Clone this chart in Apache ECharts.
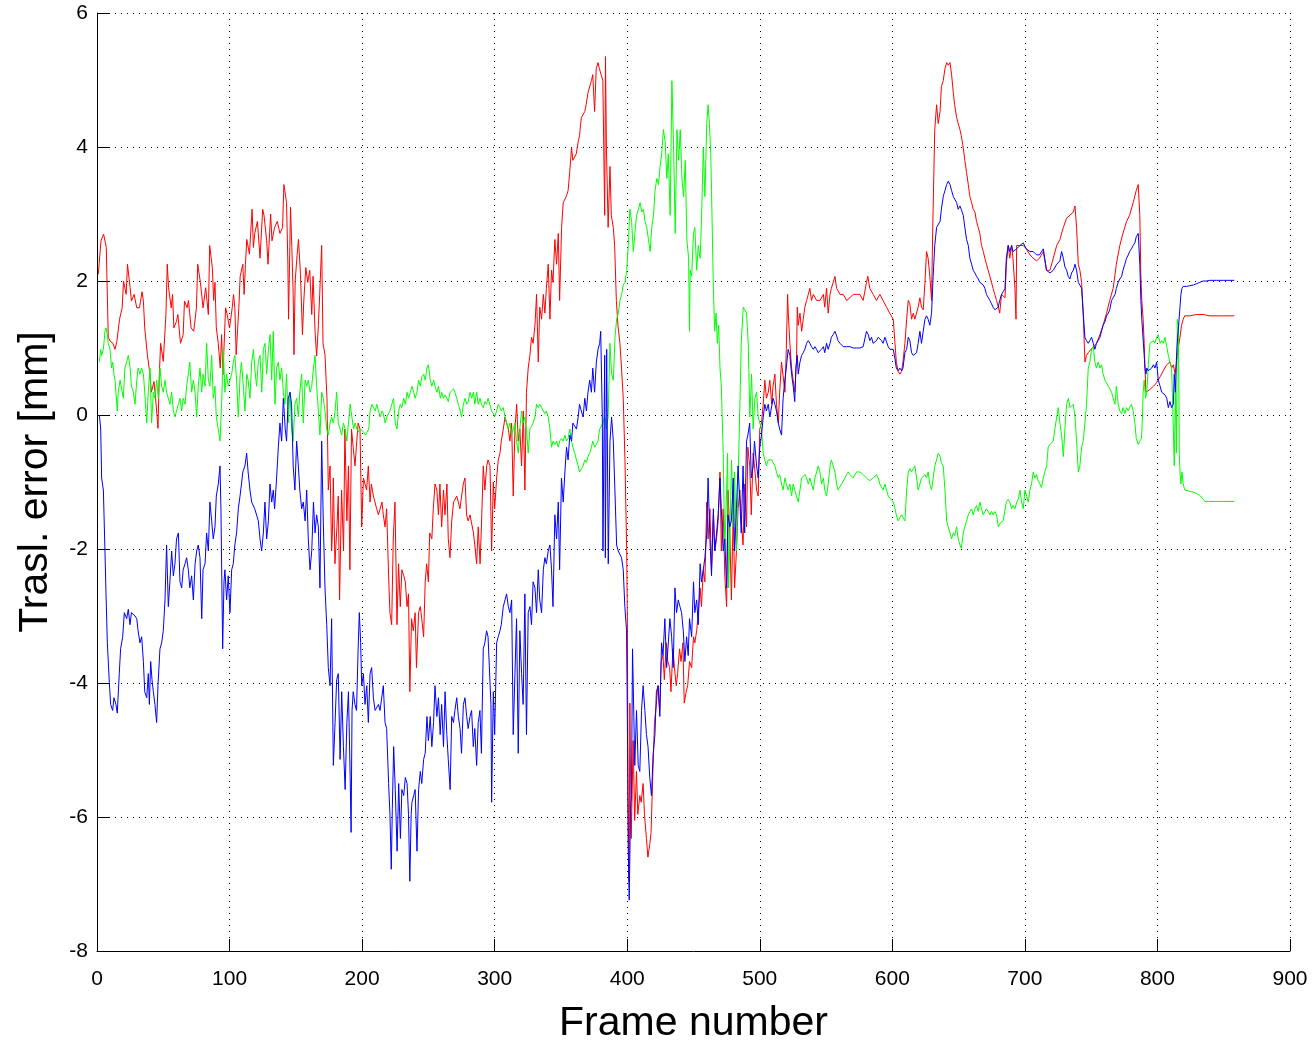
<!DOCTYPE html>
<html><head><meta charset="utf-8">
<script src="https://cdn.jsdelivr.net/npm/echarts@6/dist/echarts.min.js"></script>
<style>html,body{margin:0;padding:0;background:#fff;}#c{width:1315px;height:1041px;}</style>
</head><body><div id="c"></div>
<script>
// Tick values
const xTicks = [0,100,200,300,400,500,600,700,800,900];
const yTicks = [-8,-6,-4,-2,0,2,4,6];
const xAxisTitle = 'Frame number';
const yAxisTitle = 'Trasl. error [mm]';

// [frame, error mm]
const redPoints = [[1,2.1],[3,2.6],[5,2.7],[7,2.5],[8.5,1.16],[10,1.1],[12,1.07],[13.6,0.98],[15,1.1],[17,1.43],[19,1.6],[20,2.0],[22,1.8],[23,2.25],[25,1.9],[26,1.7],[28,1.8],[30,1.6],[32,1.6],[34,1.84],[35,1.7],[36,1.3],[38,0.9],[40,0.6],[41,0.34],[43,0.5],[44,0.3],[46,-0.2],[47,0.6],[48,1.07],[50,0.8],[52,1.5],[53,2.25],[54,1.9],[56,1.6],[57,1.8],[58,1.3],[60,1.4],[61,1.5],[63,1.07],[65,1.2],[66,1.7],[68,1.6],[69,1.71],[71,1.3],[73,1.25],[75,1.6],[76,2.25],[78,1.98],[80,1.6],[82,1.9],[84,1.5],[85,2.53],[87,2.2],[88,1.71],[89,1.98],[90,1.3],[91.5,1.07],[93,0.7],[94,1.2],[95,0.6],[97,1.6],[98,1.52],[100,1.3],[102,1.6],[103,1.8],[104,1.6],[105,0.9],[107,1.6],[108,2.07],[110,2.25],[111,1.8],[112,2.25],[113,2.62],[115,2.4],[117,3.07],[118,2.5],[119,2.71],[121,2.89],[123,2.34],[125,3.07],[126,2.98],[128,2.6],[129,2.25],[131,3.0],[132,2.6],[134,2.8],[136,2.89],[138,2.71],[140,2.8],[141,3.44],[143,3.17],[144,2.25],[144.5,1.43],[146,3.1],[147,2.5],[148,1.8],[148.6,0.9],[149.5,2.0],[151,2.4],[152,2.62],[153.5,2.1],[155,1.2],[156,1.7],[157.5,2.2],[159,1.98],[160.5,2.16],[162,1.5],[163,2.07],[164.5,1.25],[165.7,0.88],[167,1.34],[168,1.8],[169.5,2.53],[170.5,1.07],[172,0.9],[173.5,0.25],[174.5,-1.12],[175.8,-0.76],[177,-2.03],[177.6,-1.76],[178.3,-0.94],[179.5,-2.22],[181,-1.67],[182,-1.21],[183,-2.76],[184.5,-1.12],[186,-2.03],[187,-0.21],[188.5,-1.58],[189.7,-0.76],[190.8,-2.31],[192,-0.21],[193,-0.21],[194.6,-0.76],[196,-0.39],[197,-0.12],[198.4,-0.21],[199.7,-1.67],[201,-0.94],[203.4,-1.12],[204.7,-0.76],[206,-1.3],[207,-1.03],[208.5,-1.21],[211,-1.4],[212.3,-1.49],[215,-1.3],[216,-1.49],[217.3,-1.67],[218.5,-1.4],[220,-2.4],[221,-2.95],[222.3,-3.13],[223.5,-1.85],[224.8,-1.3],[226.3,-3.13],[227.5,-2.22],[228.8,-2.86],[230,-2.31],[231.4,-2.4],[232.6,-2.49],[233.9,-2.86],[235,-2.67],[236,-4.13],[237.3,-3.04],[238.6,-3.22],[240,-2.95],[241,-3.77],[242.6,-2.95],[243.9,-2.86],[245,-3.04],[246.4,-3.31],[247.6,-2.49],[248.7,-2.22],[250,-2.49],[251,-1.76],[252.6,-1.85],[253.7,-1.4],[255,-1.03],[256.4,-1.12],[257.6,-1.49],[258.7,-1.03],[260,-1.67],[261.4,-1.12],[262.5,-1.49],[264,-1.03],[265,-1.85],[266.3,-2.13],[267.6,-1.58],[269,-1.3],[270,-1.3],[271.4,-1.21],[273.8,-1.4],[276.3,-1.03],[277.6,-0.94],[278.8,-1.49],[280,-1.58],[281.4,-1.49],[282.6,-1.49],[284,-1.76],[285,-1.94],[286.4,-2.22],[287.6,-1.67],[289,-2.22],[290,-1.67],[291.4,-0.76],[292.6,-1.12],[294,-0.76],[295,-0.67],[296.5,-0.76],[297.7,-2.03],[299,-1.0],[300,-1.4],[301.5,-0.94],[302.7,-0.67],[304,-0.57],[305,-0.39],[306.5,-0.21],[307.8,-0.03],[309,-0.12],[310.3,-0.21],[311.5,-0.39],[312.8,-0.12],[314,-1.21],[315.3,-0.21],[316.6,0.16],[317.8,-0.39],[319,-0.21],[320.3,-0.76],[321.6,0.06],[322.8,-1.12],[324,0.34],[325.3,0.7],[326.6,0.89],[327.8,1.16],[329,1.07],[330.4,1.34],[331.6,1.8],[332.9,0.79],[334,1.61],[335.4,1.43],[336.7,1.8],[337.9,1.52],[339,1.89],[340.4,2.25],[341.7,1.43],[342.9,2.16],[344,1.98],[345.4,2.62],[346.7,2.25],[348,2.71],[349,1.71],[350.5,2.8],[351.7,3.17],[354,3.26],[355.4,3.35],[356.6,3.62],[358,3.99],[359,3.8],[361.6,3.9],[363,4.08],[364,4.17],[365.4,4.44],[366.6,4.44],[368,4.53],[369,4.63],[370.4,4.81],[371.6,4.81],[373,4.99],[374,5.08],[375.4,4.53],[376.6,5.17],[378,5.26],[379,5.17],[380.4,5.17],[381.6,4.99],[383,2.98],[383.6,5.35],[384.3,4.0],[385.6,2.8],[387,3.71],[388,2.98],[389.5,2.8],[390.5,2.53],[391.8,1.71],[393,1.34],[394.5,1.07],[395.7,0.7],[397,0.25],[398.3,-0.67],[399.6,-2.03],[400.1,-3.0],[400.6,-5.68],[401.4,-6.96],[402,-4.3],[403,-6.32],[404.5,-4.86],[405.6,-6.05],[407,-5.32],[408,-5.96],[409.5,-5.68],[410.5,-5.78],[412,-5.5],[413,-5.96],[414.5,-6.32],[415.6,-6.6],[417,-6.41],[418,-6.23],[419.5,-5.23],[420.6,-4.59],[422,-4.32],[423,-4.04],[424.5,-4.41],[425.6,-3.68],[427,-3.59],[428,-3.95],[429.5,-3.4],[430.6,-3.68],[432,-3.77],[433,-4.13],[434.5,-3.49],[435.6,-3.77],[437,-4.04],[438,-3.86],[439.5,-3.49],[440.6,-3.68],[442,-3.4],[443,-4.3],[444.5,-4.13],[445.6,-4.04],[447,-3.68],[448.6,-3.77],[450,-3.31],[451,-3.4],[452.4,-3.22],[453.6,-2.95],[455,-2.58],[456,-2.86],[457.4,-2.31],[458.6,-2.49],[460,-1.3],[461,-1.85],[462.4,-1.4],[463.6,-2.31],[465,-1.49],[466,-2.03],[467.4,-1.85],[468.6,-1.58],[470,-0.85],[471,-2.03],[472.4,-1.4],[473.6,-2.4],[475,-2.86],[476,-1.12],[477.4,-1.76],[478.6,-2.76],[480,-1.4],[481,-2.58],[482.4,-2.03],[483.6,-1.4],[485,-1.12],[486,-1.58],[487.4,-1.94],[488.6,-1.03],[490,-1.67],[491,-0.48],[492.4,-0.76],[493.6,-1.49],[495,-0.57],[496,-0.76],[497.6,-1.12],[498.8,-1.21],[500,-0.21],[501.3,-0.12],[502.6,0.16],[503.8,0.52],[505,0.25],[506.4,0.34],[507.6,0.52],[509,0.16],[510,0.43],[511.4,0.61],[512.6,0.16],[514,-0.12],[515,0.34],[516.4,0.79],[517.6,0.79],[519,0.34],[520,0.98],[521,1.8],[521.5,1.52],[522.7,1.07],[524,0.7],[525.2,0.52],[526.4,0.34],[527.7,0.79],[528.3,1.61],[529,1.34],[530.3,1.52],[531.6,1.25],[532.8,1.43],[534,1.61],[535.3,1.71],[536.6,1.8],[537.8,1.89],[539,1.71],[540.4,1.8],[542.9,1.71],[545.4,1.71],[548,1.8],[549,1.61],[550.4,1.89],[551.6,1.52],[553,1.8],[554,1.89],[555.4,1.98],[556.7,2.07],[558,1.89],[560.5,1.8],[563,1.8],[565.5,1.71],[568,1.75],[570.5,1.8],[573,1.8],[575.5,1.8],[578,1.71],[580.5,1.98],[581.5,2.07],[583,1.89],[585.6,1.8],[588,1.71],[590.6,1.8],[593,1.71],[595.6,1.61],[598,1.52],[600.7,1.43],[602,1.07],[603,0.79],[604.4,0.65],[605.7,0.61],[607,0.65],[608,0.79],[609.5,1.07],[610.8,1.43],[612,1.71],[613.2,1.66],[614.5,1.43],[615.8,1.52],[617,1.43],[618.3,1.43],[619.5,1.61],[620.8,1.75],[622,1.61],[623.3,1.57],[624.6,1.98],[625.8,2.44],[627,2.34],[628.3,2.07],[629.6,1.71],[630.5,2.8],[632,4.26],[633.4,4.63],[634.6,4.35],[636,4.53],[637,4.9],[638.4,4.99],[639.7,5.17],[641,5.26],[642.2,5.22],[643.5,5.26],[644.7,5.08],[646,4.81],[647,4.63],[648.5,4.44],[649.7,4.35],[651,4.26],[652,4.17],[653.5,3.99],[654.7,3.8],[656,3.62],[657.3,3.44],[658.5,3.26],[659.8,3.17],[661,3.07],[662.3,3.03],[663.5,2.89],[664.8,2.8],[666,2.71],[667.3,2.53],[668.6,2.44],[669.8,2.34],[671,2.25],[672.3,2.16],[673.6,2.07],[674.8,1.98],[676,1.89],[677.3,1.8],[678.6,1.71],[680,1.61],[681,1.52],[682.4,1.8],[683.6,1.8],[685,1.75],[686,2.25],[687.4,2.53],[688.6,2.34],[690,2.53],[691,2.34],[692.5,1.89],[693.3,1.43],[693.8,2.53],[696.3,2.53],[698.8,2.53],[701,2.48],[703.8,2.39],[706.3,2.34],[708.8,2.3],[711,2.34],[713.9,2.44],[716.3,2.16],[718.9,2.16],[721.4,2.34],[724,2.53],[726.4,2.62],[729,2.8],[731.5,2.94],[734,2.98],[736.5,3.03],[737.8,3.12],[739,2.8],[740.3,2.25],[741.5,2.16],[742.8,1.98],[744,1.52],[745.3,0.79],[746.5,0.89],[747.8,0.93],[749,0.93],[751.6,1.02],[754,1.07],[756.6,1.2],[759,1.34],[761.6,1.52],[764,1.71],[766.6,1.89],[769,2.25],[771.6,2.53],[774,2.71],[776.7,2.89],[779,2.98],[781.7,3.17],[784,3.35],[785.5,3.44],[786.3,3.44],[786.7,2.98],[787.5,2.07],[788.2,1.71],[789.2,1.43],[790,1.07],[790.6,0.7],[791.3,0.34],[794.3,0.38],[797,0.43],[799.3,0.48],[802,0.57],[804.4,0.66],[807,0.75],[809.4,0.79],[810.7,0.7],[812,0.75],[813.3,0.61],[814.4,0.79],[815.6,0.98],[817,1.16],[818.2,1.34],[819.4,1.43],[820.6,1.48],[824.4,1.48],[829.5,1.5],[834.5,1.5],[839.5,1.48],[849.6,1.48],[858,1.48]];

const greenPoints = [[1.8,0.79],[2.8,0.98],[3.5,0.89],[4.8,0.98],[6,1.25],[6.8,1.3],[7.8,1.2],[8.5,1.07],[9.8,0.98],[11,0.7],[11.8,0.79],[12.8,0.61],[13.6,0.52],[14.3,0.34],[15.3,0.06],[16,0.34],[17.4,0.52],[18.6,0.52],[19.9,0.25],[21,0.7],[22.4,0.79],[23.6,0.89],[25,0.7],[26,0.43],[27.4,0.34],[28.7,0.16],[30,0.52],[31,0.7],[32.4,0.61],[33.7,0.7],[35,0.61],[36,0.34],[37.5,-0.12],[38.7,0.34],[40,0.7],[41.2,-0.12],[42.5,0.34],[43.7,0.25],[45,0.52],[46.3,0.25],[47.5,0.7],[48.8,0.43],[50,0.34],[51.3,0.52],[52.5,0.34],[53.8,0.25],[55,0.16],[56.3,0.34],[57.6,0.06],[58.8,-0.03],[60,0.06],[61.4,0.16],[62.6,0.25],[63.9,0.06],[65,0.25],[66.4,0.16],[67.6,0.43],[68.9,0.61],[70,0.79],[71.4,0.34],[72.7,0.52],[74,0.34],[75.2,-0.03],[76.4,0.43],[77.7,0.7],[79,0.34],[80,0.61],[81.5,0.43],[82.7,1.07],[84,0.52],[85.2,0.43],[86.5,0.89],[87.7,0.25],[89,0.43],[90,-0.03],[91.5,-0.21],[92.8,-0.39],[94,0.16],[95.3,0.98],[96.5,0.34],[97.8,0.61],[99,0.43],[100.3,0.52],[101.6,0.61],[102.8,0.79],[104,0.89],[105.3,0.52],[106.6,-0.03],[108,0.61],[109,0.79],[110.4,0.43],[111.6,0.06],[113,0.61],[114,0.52],[115.4,0.25],[116.7,0.79],[118,0.98],[119,0.7],[120.4,0.43],[121.7,0.79],[123,0.89],[124.3,0.34],[125.5,0.98],[126.8,1.07],[128,0.61],[129.3,0.98],[130.6,1.2],[131.8,0.52],[133,1.25],[134.3,0.16],[135.5,0.7],[136.8,0.79],[138,0.52],[139.3,0.7],[140.6,0.34],[141.8,0.16],[143,0.61],[144.3,-0.12],[145.6,0.34],[146.8,-0.21],[148,-0.39],[149.3,0.16],[150.6,0.25],[151.9,-0.03],[153,0.34],[154.4,0.61],[155.6,-0.12],[157,0.52],[158.2,0.43],[159.4,0.52],[160.7,0.34],[162,0.43],[163.3,0.7],[164.5,0.89],[165.7,0.43],[167,0.06],[168.2,-0.3],[169.5,0.34],[170.7,0.25],[172,0.06],[173.3,-0.21],[174.5,-0.3],[175.8,-0.12],[177,-0.03],[178.3,-0.12],[179.6,0.06],[180.8,0.34],[182,-0.12],[183.4,-0.21],[184.6,-0.3],[185.9,-0.12],[187.2,-0.21],[188.5,-0.39],[189.7,-0.12],[191,0.16],[192.3,-0.03],[193.6,-0.21],[194.8,-0.12],[196,-0.21],[197.3,-0.25],[198.6,-0.21],[199.9,-0.21],[201,-0.25],[202.4,-0.3],[203.6,-0.32],[205,-0.21],[206,0.06],[207.4,0.16],[208.6,0.11],[210,0.06],[211,0.16],[212.4,0.06],[213.6,-0.03],[215,0.06],[216,0.02],[217.4,-0.12],[218.6,-0.03],[220,-0.03],[221,0.06],[222.4,0.16],[223.7,0.25],[225,-0.12],[226.3,-0.21],[227.6,0.06],[228.8,0.16],[230,0.11],[231.4,0.25],[232.6,0.16],[233.9,0.34],[235,0.25],[236.4,0.34],[237.6,0.43],[238.9,0.34],[240,0.25],[241.4,0.34],[242.6,0.52],[243.9,0.43],[245,0.57],[246.4,0.61],[247.6,0.52],[248.9,0.7],[250,0.75],[251.4,0.52],[252.6,0.43],[254,0.52],[255,0.43],[256.4,0.34],[257.6,0.43],[259,0.25],[260,0.34],[261.4,0.25],[262.6,0.3],[264,0.25],[265,0.2],[266.4,0.34],[267.6,0.34],[269,0.39],[270,0.34],[271.4,0.25],[272.6,0.16],[274,0.06],[275,-0.03],[276.4,0.16],[277.6,0.25],[279,0.16],[280,0.2],[281.4,0.34],[282.6,0.25],[284,0.34],[285,0.16],[286.4,0.34],[287.6,0.16],[289,0.25],[290,0.16],[291.4,0.11],[292.6,0.2],[294,0.16],[295,0.25],[296.5,0.25],[297.7,0.06],[299,0.02],[300,-0.03],[301.5,0.06],[302.7,0.16],[304,0.11],[305,0.06],[306.5,0.11],[307.8,-0.03],[309,-0.12],[310.3,-0.21],[311.5,-0.12],[312.8,-0.3],[314,-0.21],[315.3,-0.12],[316.5,-0.39],[317.8,-0.57],[319,-0.21],[320.3,0.06],[321.6,-0.12],[322.8,-0.03],[324,-0.21],[325.3,-0.57],[326.6,-0.21],[327.8,-0.21],[329,-0.12],[330.4,-0.03],[331.6,0.16],[332.9,0.11],[334,0.16],[335.4,0.11],[336.7,0.06],[337.9,0.02],[339,0.06],[340.4,-0.03],[341.7,-0.21],[342.9,-0.48],[344,-0.39],[345.4,-0.44],[346.7,-0.39],[348,-0.48],[349,-0.39],[350.4,-0.35],[351.7,-0.39],[353,-0.3],[354.2,-0.39],[355.4,-0.35],[356.7,-0.21],[358,-0.39],[359,-0.48],[360.4,-0.57],[361.7,-0.67],[363,-0.76],[364,-0.85],[365.4,-0.8],[366.7,-0.76],[368,-0.67],[369.2,-0.71],[370.4,-0.62],[371.7,-0.57],[373,-0.48],[374,-0.39],[375.4,-0.48],[376.7,-0.44],[378,-0.39],[379.2,-0.21],[380.4,-0.21],[381.7,-0.12],[383,-0.03],[384.3,-0.21],[385.6,-0.03],[386.3,0.52],[387,1.07],[388.2,0.61],[389.5,0.52],[390.8,1.16],[392,1.43],[393.3,1.52],[394.5,1.71],[395.8,1.8],[397,1.94],[398.3,1.98],[399.6,2.16],[400.8,2.53],[401.6,2.89],[402,3.07],[403.3,2.89],[404.6,2.44],[405.8,2.71],[407,2.98],[408.4,3.07],[409.7,3.17],[411,3.03],[412.2,3.07],[413.4,2.89],[414.7,2.8],[416,2.62],[417.3,2.44],[418.5,2.8],[419.8,2.98],[421,3.35],[422.3,3.53],[423.6,3.44],[424.8,3.71],[426,3.9],[427.3,4.26],[428.6,4.08],[429.9,3.53],[431,3.9],[432.4,2.98],[433.7,4.99],[435,3.99],[436.2,2.71],[437.5,4.26],[438.8,3.8],[440,4.26],[441.3,3.53],[442.5,3.26],[443.8,3.8],[445,2.62],[446.3,2.34],[447,1.25],[447.5,2.16],[448.6,2.07],[450,2.71],[451,2.8],[452.4,2.16],[453.6,2.53],[455,2.34],[456,2.89],[457.4,3.99],[458.6,3.26],[460,4.35],[461,4.63],[462,4.35],[463,3.9],[463.6,3.35],[465,1.89],[466,1.25],[467,1.52],[468,1.07],[469,1.34],[470,0.7],[471,0.43],[472.4,-0.57],[473.6,-2.03],[475,-1.12],[475.7,-0.57],[476.5,-2.58],[477.5,-1.76],[478.7,-0.67],[480,-1.67],[481,-0.85],[482.4,-2.03],[483.6,-1.03],[485,0.16],[486,1.07],[487.5,1.61],[488.7,1.57],[490,1.52],[491.3,1.07],[492.5,-0.03],[493.8,0.61],[495,-0.21],[496.3,0.25],[497.6,0.34],[498.8,-0.03],[500,-0.03],[501.3,-0.21],[502.6,-0.57],[503.8,-0.67],[505,-0.76],[506.4,-0.67],[507.6,-0.67],[509,-0.67],[510,-0.71],[511.4,-0.76],[512.6,-0.85],[514,-0.94],[515,-0.89],[516.4,-1.03],[517.6,-1.12],[519,-0.94],[520,-1.03],[521.4,-1.12],[522.7,-1.03],[524,-1.21],[525.2,-1.03],[526.4,-1.12],[527.7,-1.21],[529,-1.3],[530.3,-1.12],[531.6,-0.94],[532.8,-0.94],[534,-0.89],[535.3,-0.94],[536.6,-1.03],[537.8,-0.94],[539,-1.03],[540.4,-1.12],[541.6,-0.94],[542.9,-0.85],[544,-0.76],[545.4,-0.85],[546.6,-1.03],[548,-0.94],[549,-1.12],[550.4,-1.21],[551.6,-1.03],[553,-0.76],[554,-0.67],[555.4,-0.76],[556.7,-0.85],[558,-1.03],[559,-1.12],[560.5,-1.12],[561.7,-1.03],[563,-1.03],[564.2,-0.94],[565.5,-0.89],[566.8,-0.85],[568,-0.89],[570.5,-0.94],[573,-0.85],[575.5,-0.85],[578,-0.89],[580.5,-0.94],[583,-0.98],[585.6,-0.94],[588,-0.89],[589.3,-0.94],[590.6,-1.03],[592,-1.08],[593,-1.12],[594.4,-1.03],[595.6,-1.12],[596.9,-1.21],[598.2,-1.21],[600.7,-1.3],[602,-1.4],[603,-1.49],[604.4,-1.58],[605.7,-1.53],[607,-1.49],[608,-1.53],[609.5,-1.58],[610.8,-1.12],[612,-0.85],[613.2,-0.8],[614.5,-0.85],[615.8,-0.8],[617,-0.76],[618.3,-0.94],[619.5,-1.12],[620.8,-1.03],[622,-0.94],[623.3,-0.94],[624.6,-0.89],[625.8,-0.94],[627,-0.85],[628.3,-1.03],[629.6,-1.12],[630.8,-0.94],[632,-0.76],[633.4,-0.67],[634.6,-0.57],[636,-0.62],[637,-0.71],[638.4,-0.76],[639.7,-1.12],[641,-1.58],[642.2,-1.67],[643.5,-1.76],[644.7,-1.85],[646,-1.76],[647,-1.8],[648.5,-1.67],[649.7,-1.85],[651,-1.94],[652,-1.99],[653.5,-1.76],[654.7,-1.67],[656,-1.58],[657.3,-1.49],[658.5,-1.44],[659.8,-1.4],[661,-1.49],[662.3,-1.4],[663.5,-1.35],[664.8,-1.44],[666,-1.3],[667.3,-1.4],[668.6,-1.49],[669.8,-1.44],[671,-1.4],[672.3,-1.44],[673.6,-1.49],[674.8,-1.44],[676,-1.49],[677.3,-1.44],[678.6,-1.49],[680,-1.67],[681,-1.62],[682.4,-1.62],[683.6,-1.58],[685,-1.58],[686,-1.3],[687.4,-1.26],[688.6,-1.3],[690,-1.4],[691,-1.35],[692.5,-1.4],[693.8,-1.3],[695,-1.26],[696.3,-1.12],[697.5,-1.3],[698.8,-1.4],[700,-1.12],[701.3,-1.21],[702.5,-1.3],[703.8,-1.12],[705,-1.03],[706.3,-0.85],[707.5,-0.94],[708.8,-0.89],[710,-0.98],[711.3,-1.03],[712.5,-1.08],[713.9,-0.94],[715,-0.85],[716.4,-0.76],[717.6,-0.48],[718.9,-0.44],[720,-0.44],[721.4,-0.39],[722.6,-0.21],[724,-0.03],[725.2,0.11],[726.4,-0.12],[727.7,-0.3],[729,-0.62],[730.2,-0.21],[731.5,0.16],[732.8,0.25],[734,0.11],[735.2,0.11],[736.5,0.16],[737.8,-0.03],[739,-0.39],[740.3,-0.85],[741.5,-0.76],[742.8,-0.48],[744,-0.39],[745.3,-0.12],[746.5,0.16],[747.8,0.7],[749,0.79],[750.3,0.98],[751.6,1.02],[752.8,0.79],[754,0.7],[755.3,0.79],[756.6,0.7],[757.8,0.75],[759,0.61],[760.4,0.52],[761.6,0.48],[763,0.43],[764,0.43],[765.4,0.34],[766.6,0.25],[768,0.16],[769,0.43],[770.4,0.16],[771.6,0.06],[773,0.02],[774,0.11],[775.4,0.02],[776.7,0.11],[778,0.06],[779,0.11],[780.4,0.16],[781.7,0.06],[783,-0.12],[784,-0.35],[785.5,-0.44],[786.7,-0.39],[788,-0.35],[788.7,-0.03],[789.2,0.34],[790,0.52],[791,0.25],[792,0.34],[793.2,0.79],[794.4,1.07],[795.6,1.07],[796.9,1.11],[798,1.07],[799.4,1.16],[800.6,1.2],[802,1.07],[803.2,1.11],[804.4,1.07],[805.7,1.16],[807,1.02],[808.2,0.89],[809.4,0.79],[810.7,0.7],[812,-0.21],[812.7,-0.76],[813.5,0.34],[814.3,-0.57],[815,1.43],[815.8,1.34],[816.5,-0.57],[817,-0.85],[817.7,-1.03],[818.5,-0.85],[819.4,-1.03],[820.6,-1.12],[822,-1.12],[824.4,-1.14],[827,-1.15],[829.5,-1.17],[832,-1.2],[834.5,-1.26],[835.7,-1.29],[839.5,-1.29],[849.6,-1.29],[858,-1.29]];

const bluePoints = [[1.8,0.0],[2.8,-0.21],[3.5,-0.94],[4.8,-1.12],[5.3,-1.49],[6,-2.03],[6.8,-2.67],[7.8,-3.4],[9.3,-3.99],[10.3,-4.32],[11.8,-4.41],[12.8,-4.22],[14.3,-4.32],[15.3,-4.45],[16.8,-3.86],[17.8,-3.49],[19.4,-3.31],[20.6,-2.95],[22.4,-3.04],[23.6,-2.9],[24.9,-3.13],[26,-2.95],[27.4,-2.95],[28.7,-3.0],[30,-3.04],[31,-3.22],[32.4,-3.4],[33.7,-3.31],[35,-3.68],[36,-4.13],[37.5,-4.22],[38.7,-3.86],[39.5,-4.32],[40.5,-3.68],[41.5,-3.95],[42.5,-4.13],[43.7,-4.32],[45,-4.59],[46,-4.04],[47.5,-3.49],[48.8,-3.4],[50,-3.22],[51.3,-2.76],[52.5,-1.94],[53.8,-2.86],[55,-2.49],[56.3,-2.03],[57.6,-2.4],[58.8,-2.22],[60,-1.85],[61.4,-1.76],[62.6,-2.49],[63.9,-2.58],[65,-2.31],[66.4,-2.22],[67.6,-2.13],[68.9,-2.31],[70,-2.58],[71.4,-2.4],[72.7,-2.76],[74,-2.22],[75.2,-2.03],[76.4,-1.94],[77.7,-2.13],[79,-3.04],[80,-2.31],[81.5,-2.22],[82.7,-1.76],[84,-2.03],[85.2,-1.3],[86.5,-1.58],[87.7,-1.85],[89,-1.67],[90,-1.21],[91.5,-1.03],[92.8,-0.76],[93.5,-1.4],[94.8,-3.49],[95.8,-2.49],[96.5,-2.31],[97.8,-2.76],[99,-2.4],[100.3,-2.95],[101.6,-2.31],[102.8,-2.22],[104,-1.94],[105.3,-1.76],[106.6,-1.4],[107.9,-1.21],[109,-1.03],[110,-0.85],[111.6,-0.76],[112.9,-0.57],[114,-0.85],[115.4,-1.12],[116.7,-1.3],[117.9,-1.3],[119,-1.4],[120.4,-1.4],[121.7,-1.58],[123,-1.85],[124.2,-2.03],[125.5,-1.76],[126.7,-1.3],[128,-1.85],[129.3,-1.58],[130.5,-1.03],[131.8,-1.3],[133,-1.12],[134,-1.4],[135.5,-0.94],[136.8,-0.48],[138,-0.12],[139.3,-0.39],[140.6,0.25],[142,-0.21],[143,-0.39],[144.3,0.25],[145.6,0.34],[146.8,0.16],[148,-0.76],[149.3,-1.12],[150.6,-0.39],[151.9,-0.76],[153,-1.12],[154.4,-1.4],[155.6,-1.3],[157,-1.58],[158.2,-1.12],[159.4,-1.85],[160.7,-2.31],[162,-2.03],[163.3,-1.3],[164.5,-1.76],[165.7,-1.49],[167,-1.67],[168.2,-2.58],[169.5,-0.39],[170.7,-1.58],[172,-2.58],[173.3,-3.13],[174.5,-3.77],[175.8,-4.04],[177,-3.04],[178.3,-5.23],[179.6,-4.59],[180.8,-3.95],[182,-3.86],[183.4,-5.14],[184.6,-4.13],[185.9,-4.95],[187.2,-5.59],[188.5,-4.59],[189.7,-4.13],[191,-5.41],[191.7,-6.23],[192.4,-4.41],[193.3,-4.13],[194.6,-4.32],[195.8,-4.41],[197,-3.49],[197.9,-2.95],[198.9,-3.4],[199.7,-4.04],[201,-3.86],[202.2,-4.32],[203.5,-4.04],[204.7,-4.59],[206,-3.86],[207.2,-3.77],[208.5,-4.22],[209.8,-4.41],[211,-4.41],[212.3,-4.32],[213.5,-4.41],[214.8,-4.41],[216,-4.04],[217.3,-4.59],[218.5,-4.68],[220,-5.5],[221,-5.96],[222,-6.78],[222.8,-5.87],[223.8,-4.95],[225,-5.59],[226.4,-6.51],[227.6,-5.5],[228.9,-6.32],[230,-5.59],[231.4,-5.68],[232.6,-5.41],[233.9,-5.5],[235,-5.96],[236,-6.96],[237,-5.96],[237.6,-5.78],[238.9,-5.68],[240,-5.59],[241.4,-6.51],[242.6,-5.59],[243.9,-5.32],[245,-5.5],[246.4,-5.14],[247.6,-5.05],[248.9,-4.5],[250,-4.86],[251.4,-4.5],[252.6,-4.95],[253.9,-4.59],[255,-4.04],[256.4,-4.5],[257.6,-4.22],[258.9,-4.77],[260,-4.32],[261.4,-4.95],[262.6,-4.13],[263.9,-4.77],[265,-5.14],[266.4,-5.59],[267.6,-4.5],[268.9,-4.59],[270,-4.41],[271.4,-4.22],[272.6,-4.5],[273.9,-4.68],[275,-5.05],[276.4,-4.32],[277.6,-4.22],[278.9,-4.5],[280,-4.68],[281.4,-4.5],[282.6,-4.41],[283.9,-4.95],[285,-4.68],[286.4,-5.23],[287.6,-4.59],[288.9,-4.41],[290,-5.05],[291.4,-3.49],[292.6,-3.4],[293.9,-3.22],[295,-3.31],[296.5,-3.31],[297.2,-4.32],[297.7,-5.78],[299,-4.13],[300,-4.77],[301.5,-3.4],[302.7,-3.31],[304,-3.22],[305,-3.13],[306.5,-2.86],[307.8,-2.76],[309,-2.67],[310.3,-2.86],[311.5,-2.95],[312.8,-2.76],[314,-4.77],[315.3,-3.86],[316.5,-3.04],[317.8,-5.05],[319,-3.22],[320.3,-3.86],[321.5,-4.32],[322.8,-2.67],[324,-4.77],[325.3,-2.95],[326.6,-2.86],[327.8,-3.13],[329,-2.49],[330.4,-2.58],[331.6,-2.95],[332.9,-2.31],[334,-2.76],[335.4,-2.95],[336.7,-2.31],[337.9,-2.13],[339,-2.22],[340.4,-2.03],[341.7,-1.94],[342.9,-2.31],[344,-2.86],[345.4,-1.49],[346.7,-1.85],[348,-1.3],[349,-2.31],[350.4,-0.94],[351.7,-1.3],[353,-0.85],[354.2,-0.48],[355.4,-0.67],[356.7,-0.3],[358,-0.39],[359,-0.12],[360.4,-0.12],[361.7,-0.21],[363,-0.03],[364,0.16],[365.4,0.06],[366.7,-0.03],[368,0.25],[369.2,0.06],[370.4,0.34],[371.7,0.52],[373,0.34],[374,0.7],[375.4,0.34],[376.7,0.79],[378,0.98],[379.2,1.07],[380,1.25],[381.2,-0.03],[381.7,-2.03],[383,0.89],[383.5,-2.13],[384.5,0.98],[385.7,-2.22],[387,-0.39],[388.2,-0.03],[389.5,-0.39],[390.7,-1.12],[392,-1.94],[393.2,-2.03],[394.5,-2.03],[395.7,-2.13],[397,-2.31],[398.2,-2.86],[399.5,-3.22],[400.2,-4.77],[400.7,-6.41],[401.5,-7.24],[402.5,-5.87],[403.2,-5.68],[404,-3.49],[405,-4.5],[405.7,-5.23],[407,-4.41],[408.3,-5.23],[409.5,-5.32],[410.8,-4.41],[412,-4.04],[413.3,-4.41],[414.5,-4.77],[415.7,-4.95],[417,-5.41],[418.3,-5.68],[419.6,-5.05],[420.9,-4.77],[422,-4.13],[423.4,-4.04],[424.6,-4.5],[425.9,-3.4],[427,-3.59],[428.4,-3.04],[429.7,-3.77],[431,-3.4],[432.2,-3.04],[433.5,-3.31],[434.7,-3.77],[436,-2.58],[437.2,-2.95],[438.5,-2.76],[439.8,-2.86],[441,-2.95],[442.3,-3.22],[443.5,-3.68],[444.8,-3.31],[446,-3.59],[447,-3.04],[448.6,-3.31],[450,-2.49],[451,-2.95],[452.4,-2.76],[453.6,-3.13],[455,-2.22],[456,-2.49],[457.4,-2.31],[458.6,-2.13],[460,-1.76],[461,-0.94],[462.4,-1.85],[463.6,-2.4],[465,-1.4],[466,-2.03],[467.4,-1.76],[468.6,-1.49],[470,-0.94],[471,-1.4],[472.4,-2.03],[473.6,-1.85],[475,-2.58],[476,-1.49],[477.4,-1.67],[478.6,-1.58],[480,-0.94],[481,-2.03],[482.4,-1.4],[483.6,-0.76],[485,-1.3],[486,-1.76],[487.4,-0.76],[488.6,-1.76],[490,-0.39],[491,-0.3],[492.4,-0.12],[493.6,-0.94],[495,-0.76],[496,-0.39],[497.6,-0.76],[498.8,-0.94],[500,-0.48],[501.3,-0.3],[502.6,-0.03],[503.8,0.16],[505,0.06],[506.4,0.16],[507.6,-0.03],[509,-0.03],[510,0.25],[511.4,0.16],[512.6,0.06],[514,-0.12],[515,-0.21],[516.4,-0.3],[517.6,0.25],[518.9,0.52],[520,0.7],[521.4,0.98],[522.7,0.89],[524,0.61],[525.2,0.43],[526.4,0.2],[527.2,0.7],[528.3,0.89],[529,0.61],[530.3,0.79],[531.6,0.89],[532.8,0.93],[534,0.98],[535.3,1.07],[536.6,1.11],[537.8,1.07],[539,1.02],[540.4,0.98],[541.6,1.02],[542.9,0.98],[544,0.93],[545.4,0.93],[546.6,0.98],[548,1.02],[549,0.93],[550.4,1.07],[551.6,0.98],[553,1.07],[554,1.16],[555.4,1.2],[556.7,1.25],[558,1.18],[559,1.11],[560.5,1.07],[563,1.02],[565.5,1.02],[568,1.02],[570.5,1.0],[573,1.0],[575.5,1.0],[578,1.02],[579,1.02],[580.5,1.25],[581.8,1.2],[583,1.11],[584.3,1.16],[585.5,1.07],[586.8,1.07],[588,1.11],[589.4,1.16],[590.6,1.18],[591.8,1.11],[593,1.07],[594.4,1.16],[595.6,1.16],[596.9,1.02],[598.2,0.98],[599.4,1.0],[600.7,0.98],[602,0.84],[603,0.7],[604.4,0.66],[605.7,0.7],[607,0.66],[608,0.7],[609.5,0.93],[610.8,0.98],[612,1.16],[613.2,1.11],[614.5,0.93],[615.8,0.89],[617,0.89],[618.3,0.93],[619.5,1.07],[620.8,1.25],[622,1.07],[623.3,1.25],[624.6,1.43],[625.8,1.48],[627,1.43],[628.3,1.34],[629.6,1.52],[630.8,2.07],[632,2.53],[633.4,2.8],[634.6,2.8],[636,2.89],[637,3.07],[638.4,3.26],[639.7,3.35],[641,3.44],[642.2,3.49],[643.5,3.44],[644.7,3.35],[646,3.26],[647,3.26],[648.5,3.17],[649.7,3.07],[651,3.12],[652,3.07],[653.5,2.98],[654.7,2.8],[656,2.62],[657.3,2.53],[658.5,2.34],[659.8,2.25],[661,2.16],[662.3,2.12],[663.5,2.07],[664.8,2.03],[666,1.98],[667.3,1.98],[668.6,1.94],[669.8,1.89],[671,1.8],[672.3,1.8],[673.6,1.71],[674.8,1.66],[676,1.61],[677.4,1.57],[678.6,1.57],[679.9,1.61],[681,1.71],[682.4,1.8],[683.6,1.84],[685,1.89],[686,2.34],[687.4,2.53],[688.6,2.44],[690,2.53],[691,2.44],[693.8,2.48],[696.3,2.53],[698.8,2.57],[701,2.48],[703.8,2.44],[706.3,2.44],[708.8,2.39],[711,2.39],[713.9,2.48],[716.3,2.16],[718.9,2.12],[721.4,2.16],[724,2.25],[726.4,2.3],[727.7,2.44],[729,2.34],[730.2,2.21],[731.5,2.16],[732.7,2.07],[734,2.03],[735.2,2.12],[736.5,2.16],[737.8,2.25],[739,2.16],[740.3,1.98],[741.5,1.94],[742.8,1.89],[744,1.52],[745.3,1.16],[746.5,1.11],[747.8,1.07],[749,1.11],[750.3,1.16],[751.6,1.07],[752.8,0.98],[754,1.07],[755.3,1.11],[756.6,1.16],[757.8,1.25],[759,1.34],[760.4,1.39],[761.6,1.48],[762.9,1.52],[764,1.57],[765.4,1.71],[766.6,1.75],[768,1.8],[769,1.89],[770.4,1.98],[771.6,2.03],[773,2.07],[774,2.16],[775.4,2.25],[776.7,2.34],[778,2.39],[779,2.44],[780.4,2.48],[781.7,2.53],[783,2.57],[784,2.66],[785.5,2.71],[786.3,2.71],[786.7,2.25],[787.5,1.71],[788.2,1.43],[789.2,1.43],[790,0.89],[790.6,0.7],[791.3,0.61],[792,0.7],[793,0.66],[794.3,0.66],[795.6,0.7],[797,0.75],[798.1,0.7],[799.4,0.79],[800.6,0.52],[802,0.43],[803.2,0.34],[804.4,0.34],[805.7,0.3],[807,0.25],[808.2,0.11],[809.4,0.2],[810.7,0.11],[812,0.16],[812.7,0.61],[813.5,0.34],[814.4,0.89],[815.2,1.16],[816,1.34],[817,1.61],[817.7,1.8],[818.5,1.89],[819.4,1.92],[822,1.92],[824.4,1.93],[827,1.94],[829.5,1.96],[832,1.98],[834.5,2.0],[837,2.0],[839.5,2.01],[844.5,2.01],[849.6,2.01],[858,2.01]];

const chart = echarts.init(document.getElementById('c'), null, {renderer: 'canvas'});
const FONT = '"Liberation Sans", Arial, Helvetica, sans-serif';
function line(name, color, pts) {
  return { name: name, type: 'line', data: pts, showSymbol: false, symbol: 'none',
    lineStyle: { color: color, width: 1 }, itemStyle: { color: color },
    emphasis: { disabled: true }, silent: true, animation: false, z: 3 };
}
chart.setOption({
  backgroundColor: '#ffffff',
  animation: false,
  grid: { left: 97, top: 13, width: 1193, height: 938, show: false, containLabel: false, outerBoundsMode: 'none' },
  xAxis: {
    type: 'value', min: xTicks[0], max: xTicks[xTicks.length - 1], interval: 100,
    name: xAxisTitle, nameLocation: 'middle', nameGap: 52,
    nameTextStyle: { fontFamily: FONT, fontSize: 41, color: '#000' },
    axisLine: { show: true, onZero: false, lineStyle: { color: '#000', width: 1 } },
    axisTick: { show: true, inside: true, length: 12, lineStyle: { color: '#000' } },
    axisLabel: { fontFamily: FONT, fontSize: 21, color: '#000', margin: 18 },
    splitLine: { show: true, lineStyle: { color: '#000', type: [1, 5], width: 1 } }
  },
  yAxis: {
    type: 'value', min: yTicks[0], max: yTicks[yTicks.length - 1], interval: 2,
    name: yAxisTitle, nameLocation: 'middle', nameGap: 41, nameRotate: 90,
    nameTextStyle: { fontFamily: FONT, fontSize: 41, color: '#000' },
    axisLine: { show: true, onZero: false, lineStyle: { color: '#000', width: 1 } },
    axisTick: { show: true, inside: true, length: 12, lineStyle: { color: '#000' } },
    axisLabel: { fontFamily: FONT, fontSize: 21, color: '#000', margin: 9 },
    splitLine: { show: true, lineStyle: { color: '#000', type: [1, 5], width: 1 } }
  },
  series: [
    line('red', '#ff0000', redPoints),
    line('green', '#00ff00', greenPoints),
    line('blue', '#0000ff', bluePoints)
  ]
});
</script>
</body></html>
